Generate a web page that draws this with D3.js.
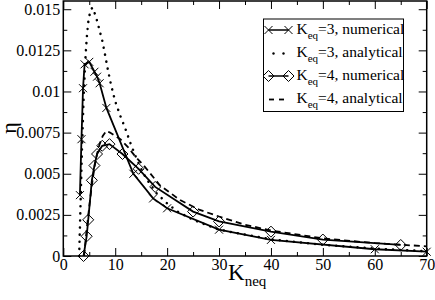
<!DOCTYPE html>
<html>
<head>
<meta charset="utf-8">
<script src="https://cdn.jsdelivr.net/npm/d3@7"></script>
<style>
  body { margin: 0; background: #fff; }
  svg { display: block; }
  svg text { font-family: "Liberation Serif", "Times New Roman", Times, "DejaVu Serif", serif !important; fill: #000; }
</style>
</head>
<body>
<div id="top_div"></div>
<script>
// K_eq=3, numerical (crosses)
var num3K   = [3.2, 3.5, 3.8, 4.1, 5, 6, 6.5, 7, 8.3, 13.5, 17.3, 20, 30, 40, 60, 70];
var num3Eta = [0.0037, 0.0071, 0.0102, 0.01165, 0.0118, 0.0112, 0.0109, 0.0105, 0.0090,
               0.0050, 0.0035, 0.0029, 0.0016, 0.00098, 0.00041, 0.00026];

// K_eq=3, analytical (dotted)
var ana3K   = [3.05, 3.2, 3.35, 3.6, 3.9, 4.2, 4.5, 4.8, 5.2, 5.6, 6, 6.5, 7, 7.5, 8, 8.6, 9.2,
               10, 11, 12, 13, 14, 15, 16, 18, 20, 22, 25, 30, 35, 40, 50, 60, 70];
var ana3Eta = [0, 0.0017, 0.0035, 0.0065, 0.0095, 0.0117, 0.0132, 0.0142, 0.0149, 0.0151,
               0.0148, 0.0143, 0.0137, 0.0131, 0.0123, 0.0113, 0.0104, 0.0094, 0.0085,
               0.0077, 0.0068, 0.0060, 0.0053, 0.0047, 0.0038, 0.0032, 0.0027, 0.0022,
               0.0016, 0.0013, 0.00102, 0.00068, 0.00045, 0.00029];

// K_eq=4, numerical (diamonds)
var num4K   = [3.9, 4.5, 4.8, 5.5, 6, 6.5, 7.5, 8.9, 11.4, 14.5, 17.7, 25, 30, 40, 50, 65];
var num4Eta = [0, 0.0012, 0.0022, 0.0046, 0.0055, 0.0062, 0.0067, 0.0068, 0.0062, 0.0053,
               0.0042, 0.0027, 0.0021, 0.00148, 0.00100, 0.00067];

// K_eq=4, analytical (dashed)
var ana4K   = [4, 4.5, 5, 5.5, 6, 6.5, 7, 7.6, 8.3, 9, 10, 11, 12.5, 14, 15.5, 18.6, 22.5,
               26.3, 30, 35, 40, 50, 60, 70];
var ana4Eta = [0, 0.0016, 0.0030, 0.0043, 0.0054, 0.0062, 0.0068, 0.0073, 0.0076, 0.0075,
               0.0073, 0.0071, 0.0066, 0.0060, 0.0055, 0.0043, 0.0034, 0.0028, 0.0024,
               0.0019, 0.00155, 0.00107, 0.00078, 0.00059];

var xMajor = [0, 10, 20, 30, 40, 50, 60, 70];
var xMinor = [5, 15, 25, 35, 45, 55, 65];
var yMajor = [0, 0.0025, 0.005, 0.0075, 0.01, 0.0125, 0.015];
var yMinor = [0.00125, 0.00375, 0.00625, 0.00875, 0.01125, 0.01375];

var legendLabels = ['=3, numerical', '=3, analytical', '=4, numerical', '=4, analytical'];

var W = 435, H = 300;
var plotL = 63.3, plotR = 426.7, plotT = 1, plotB = 256;
var serif = '"Liberation Serif", "Times New Roman", Times, serif';

var svg = d3.select('#top_div')
    .append('svg')
      .attr('width', W)
      .attr('height', H)
      .attr('font-family', serif);

var x = d3.scaleLinear().domain([0, 70]).range([plotL, plotR]);
var y = d3.scaleLinear().domain([0, 0.0155]).range([plotB, plotT]);

function zip(a, b) { return a.map(function(v, i) { return [v, b[i]]; }); }

var line = d3.line().x(function(d) { return x(d[0]); }).y(function(d) { return y(d[1]); });

// ticks (inward on all four sides)
function addAxis(axis, transform, values, size, labels) {
  var g = svg.append('g').attr('transform', transform)
    .call(axis.tickValues(values).tickSize(-size).tickPadding(size + 4)
      .tickFormat(labels ? labels : ''));
  g.attr('font-family', serif).attr('font-size', 16);
  g.select('.domain').remove();
  g.selectAll('.tick line').attr('stroke', '#000').attr('stroke-width', 1);
  g.selectAll('.tick text').attr('fill', '#000');
  return g;
}

var yFmt = function(d) { return d === 0 ? '0' : String(+d.toFixed(5)); };

var gx = addAxis(d3.axisBottom(x), 'translate(0,' + plotB + ')', xMajor, 8, function(d) { return d; });
gx.selectAll('.tick text').attr('dy', '0.75em').attr('y', 2);
addAxis(d3.axisBottom(x), 'translate(0,' + plotB + ')', xMinor, 4, null);
addAxis(d3.axisTop(x), 'translate(0,' + plotT + ')', xMajor, 8, null);
addAxis(d3.axisTop(x), 'translate(0,' + plotT + ')', xMinor, 4, null);

var gy = addAxis(d3.axisLeft(y), 'translate(' + plotL + ',0)', yMajor, 8, yFmt);
gy.selectAll('.tick text').attr('x', -3);
addAxis(d3.axisLeft(y), 'translate(' + plotL + ',0)', yMinor, 4, null);
addAxis(d3.axisRight(y), 'translate(' + plotR + ',0)', yMajor, 8, null);
addAxis(d3.axisRight(y), 'translate(' + plotR + ',0)', yMinor, 4, null);

// frame
svg.append('rect')
  .attr('x', plotL).attr('y', plotT)
  .attr('width', plotR - plotL).attr('height', plotB - plotT)
  .attr('fill', 'none').attr('stroke', '#000').attr('stroke-width', 1.5);

// curves
svg.append('path').datum(zip(ana3K, ana3Eta))
  .attr('d', line).attr('fill', 'none').attr('stroke', '#000')
  .attr('stroke-width', 2.5).attr('stroke-linecap', 'round')
  .attr('stroke-dasharray', '0.1,7');

svg.append('path').datum(zip(ana4K, ana4Eta))
  .attr('d', line).attr('fill', 'none').attr('stroke', '#000')
  .attr('stroke-width', 1.8).attr('stroke-dasharray', '6,4');

svg.append('path').datum(zip(num3K, num3Eta))
  .attr('d', line).attr('fill', 'none').attr('stroke', '#000').attr('stroke-width', 1.8);

svg.append('path').datum(zip(num4K, num4Eta))
  .attr('d', line).attr('fill', 'none').attr('stroke', '#000').attr('stroke-width', 1.8);

var crossPath = 'M-4,-4L4,4M-4,4L4,-4';
var diamondPath = 'M0,-5.5L5.5,0L0,5.5L-5.5,0Z';

svg.selectAll('path.cross')
  .data(zip(num3K, num3Eta))
  .enter().append('path')
    .attr('class', 'cross')
    .attr('d', crossPath)
    .attr('transform', function(d) { return 'translate(' + x(d[0]) + ',' + y(d[1]) + ')'; })
    .attr('fill', 'none').attr('stroke', '#000').attr('stroke-width', 1);

svg.selectAll('path.diamond')
  .data(zip(num4K, num4Eta))
  .enter().append('path')
    .attr('class', 'diamond')
    .attr('d', diamondPath)
    .attr('transform', function(d) { return 'translate(' + x(d[0]) + ',' + y(d[1]) + ')'; })
    .attr('fill', 'none').attr('stroke', '#000').attr('stroke-width', 1);

// axis titles
svg.append('text')
  .attr('transform', 'translate(16,128) rotate(-90)')
  .attr('text-anchor', 'middle')
  .attr('font-size', '22px')
  .text('η');

var xt = svg.append('text')
  .attr('x', 228).attr('y', 280)
  .attr('font-size', '23px');
xt.append('tspan').text('K');
xt.append('tspan').attr('font-size', '15px').attr('dy', 6).text('neq');

// legend
var lg = svg.append('g').attr('transform', 'translate(263.5,19)');
lg.append('rect')
  .attr('width', 140).attr('height', 92.5)
  .attr('fill', '#fff').attr('stroke', '#000').attr('stroke-width', 1);

var rowY = [11, 34, 57, 80];
legendLabels.forEach(function(lab, i) {
  var ry = rowY[i];
  var row = lg.append('g').attr('transform', 'translate(0,' + ry + ')');
  if (i === 0 || i === 2) {
    row.append('line').attr('x1', 5).attr('x2', 25).attr('y1', 0).attr('y2', 0)
      .attr('stroke', '#000').attr('stroke-width', 1.5);
    [5, 25].forEach(function(px) {
      row.append('path').attr('d', i === 0 ? crossPath : diamondPath)
        .attr('transform', 'translate(' + px + ',0)')
        .attr('fill', 'none').attr('stroke', '#000').attr('stroke-width', 1);
    });
  } else if (i === 1) {
    [10, 20].forEach(function(px) {
      row.append('circle').attr('cx', px).attr('cy', 0.5).attr('r', 1.2).attr('fill', '#000');
    });
  } else {
    [8, 18].forEach(function(px) {
      row.append('line').attr('x1', px - 2.5).attr('x2', px + 2.5).attr('y1', 0.5).attr('y2', 0.5)
        .attr('stroke', '#000').attr('stroke-width', 1.8);
    });
  }
  var t = row.append('text').attr('x', 33).attr('y', 4).attr('font-size', '15.5px');
  t.append('tspan').text('K');
  t.append('tspan').attr('font-size', '11px').attr('dy', 5).text('eq');
  t.append('tspan').attr('dy', -5).text(lab);
});
</script>
</body>
</html>
